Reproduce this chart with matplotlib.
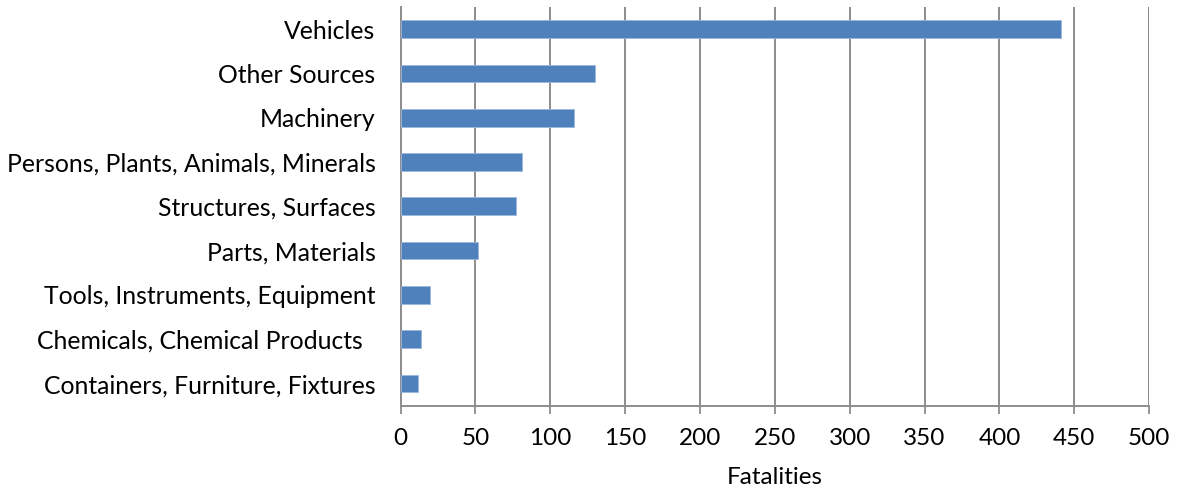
import matplotlib
matplotlib.use("Agg")
import matplotlib.pyplot as plt

# Категории и стойности (отгоре надолу)
categories = [
    "Vehicles",
    "Other Sources",
    "Machinery",
    "Persons, Plants, Animals, Minerals",
    "Structures, Surfaces",
    "Parts, Materials",
    "Tools, Instruments, Equipment",
    "Chemicals, Chemical Products  ",
    "Containers, Furniture, Fixtures",
]
fatalities = [441, 130, 116, 81, 77, 52, 20, 14, 12]
x_ticks = [0, 50, 100, 150, 200, 250, 300, 350, 400, 450, 500]

plt.rcParams["font.family"] = ["Lato", "DejaVu Sans"]

fig = plt.figure(figsize=(11.78, 4.93), dpi=100)
ax = fig.add_axes([0.340, 0.177, 0.6355, 0.809])

grid_color = "#8c8c8c"
positions = list(range(len(categories)))
ax.barh(positions, fatalities, height=0.4, color="#4F81BD",
        edgecolor="#9bb7dc", linewidth=0.6, zorder=3)

ax.set_ylim(len(categories) - 0.5, -0.5)
ax.set_xlim(0, 500)
ax.set_xticks(x_ticks)
ax.set_yticks(positions)
ax.set_yticklabels(categories, fontsize=17.8)
ax.tick_params(axis="x", labelsize=17.5, length=6, color=grid_color, width=1.3, pad=10)
ax.tick_params(axis="y", length=0, pad=18)

ax.xaxis.grid(True, color=grid_color, linewidth=1.4, zorder=0)
ax.set_axisbelow(True)

for side in ["top", "right"]:
    ax.spines[side].set_visible(False)
ax.spines["left"].set_color(grid_color)
ax.spines["left"].set_linewidth(1.4)
ax.spines["bottom"].set_color(grid_color)
ax.spines["bottom"].set_linewidth(1.4)

ax.set_xlabel("Fatalities", fontsize=17.5, labelpad=13)

fig.savefig("out.png", dpi=100)
